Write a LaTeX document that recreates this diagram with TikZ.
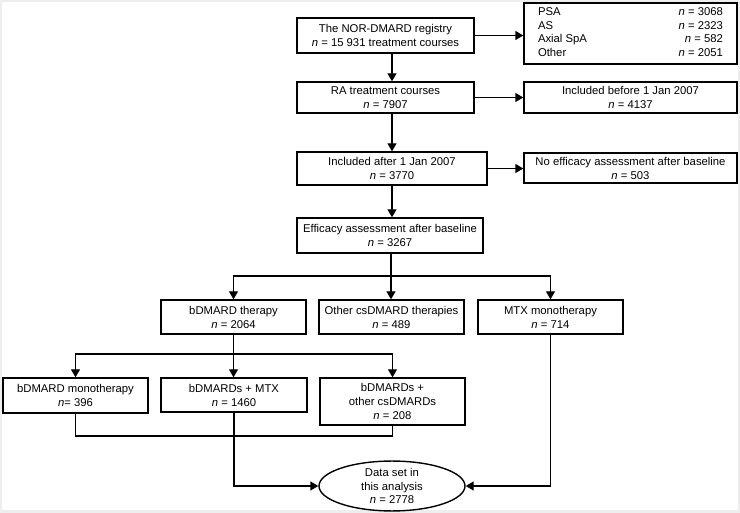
\documentclass[tikz,border=0pt]{standalone}
\usepackage{fontspec}
\setmainfont{Liberation Sans}
\usetikzlibrary{arrows.meta,shapes.geometric}
\definecolor{framegray}{RGB}{238,238,238}
\begin{document}
\begin{tikzpicture}[x=1pt,y=-1pt,
  txt/.style={font=\fontsize{11.3}{14}\selectfont},
  box/.style={draw, line width=1.4pt, rectangle, inner sep=0pt, align=center, txt},
  arr/.style={line width=1.4pt, -{Triangle[length=8pt,width=9pt]}},
  ln/.style={line width=1.4pt}]
\fill[framegray] (0,0) rectangle (740,513);
\fill[white] (2,2) rectangle (738,510);
\useasboundingbox (0,0) rectangle (740,513);

\node[box, minimum width=177pt, minimum height=35pt] (reg) at (385.5,35.5)
  {The NOR-DMARD registry\\\textit{n} = 15 931 treatment courses};
\node[box, minimum width=213pt, minimum height=61pt, font=\fontsize{11.3}{13.5}\selectfont] (psa) at (630.5,33.5)
  {\setlength{\tabcolsep}{0pt}\begin{tabular*}{185pt}{@{\extracolsep{\fill}}lr}
   PSA & \textit{n} = 3068\\
   AS & \textit{n} = 2323\\
   Axial SpA & \textit{n} = 582\\
   Other & \textit{n} = 2051
   \end{tabular*}};
\node[box, minimum width=177pt, minimum height=31pt] (ra) at (385.5,97.5)
  {RA treatment courses\\\textit{n} = 7907};
\node[box, minimum width=213pt, minimum height=31pt] (before) at (630.5,97.5)
  {Included before 1 Jan 2007\\\textit{n} = 4137};
\node[box, minimum width=190pt, minimum height=33pt] (after) at (392,168.5)
  {Included after 1 Jan 2007\\\textit{n} = 3770};
\node[box, minimum width=213pt, minimum height=30pt] (noeff) at (630.5,168)
  {No efficacy assessment after baseline\\\textit{n} = 503};
\node[box, minimum width=186pt, minimum height=35pt] (eff) at (390,235.5)
  {Efficacy assessment after baseline\\\textit{n} = 3267};

\node[box, minimum width=145pt, minimum height=34pt] (bd) at (233.5,317)
  {bDMARD therapy\\\textit{n} = 2064};
\node[box, minimum width=145pt, minimum height=34pt] (other) at (391.5,317)
  {Other csDMARD therapies\\\textit{n} = 489};
\node[box, minimum width=145pt, minimum height=34pt] (mtx) at (550.5,317)
  {MTX monotherapy\\\textit{n} = 714};

\node[box, minimum width=145pt, minimum height=35pt] (mono) at (75.5,395.5)
  {bDMARD monotherapy\\\textit{n}= 396};
\node[box, minimum width=146pt, minimum height=34pt] (bmtx) at (234,395)
  {bDMARDs + MTX\\\textit{n} = 1460};
\node[box, minimum width=145pt, minimum height=47pt] (oth2) at (392.5,401.5)
  {bDMARDs +\\other csDMARDs\\\textit{n} = 208};

\node[draw, ellipse, line width=1.4pt, inner sep=0pt, minimum width=146pt, minimum height=48pt,
  align=center, font=\fontsize{11.3}{13.5}\selectfont] (data) at (392,486)
  {Data set in\\this analysis\\\textit{n} = 2778};

\coordinate (col) at (392,0);
\coordinate (sp1) at (391,276);
\coordinate (sp2) at (233.5,354);
\coordinate (jn) at (0,436);

\draw[arr] (reg.east) -- (reg.east -| psa.west);
\draw[arr] (ra.east) -- (ra.east -| before.west);
\draw[arr] (after.east) -- (after.east -| noeff.west);
\draw[arr] (reg.south -| col) -- (ra.north -| col);
\draw[arr] (ra.south -| col) -- (after.north -| col);
\draw[arr] (after.south -| col) -- (eff.north -| col);

\draw[ln] (eff.south -| sp1) -- (sp1);
\draw[arr] (sp1) -- (sp1 |- other.north);
\draw[arr] (sp1) -| (bd.north);
\draw[arr] (sp1) -| (mtx.north);

\draw[ln] (bd.south) -- (sp2);
\draw[arr] (sp2) -| (mono.north);
\draw[arr] (sp2) -- (sp2 |- bmtx.north);
\draw[arr] (sp2) -| (oth2.north);

\draw[ln] (mono.south) |- (jn -| oth2.south) -- (oth2.south);
\draw[arr] (bmtx.south) |- (data.west);
\draw[arr] (mtx.south) |- (data.east);
\end{tikzpicture}
\end{document}
